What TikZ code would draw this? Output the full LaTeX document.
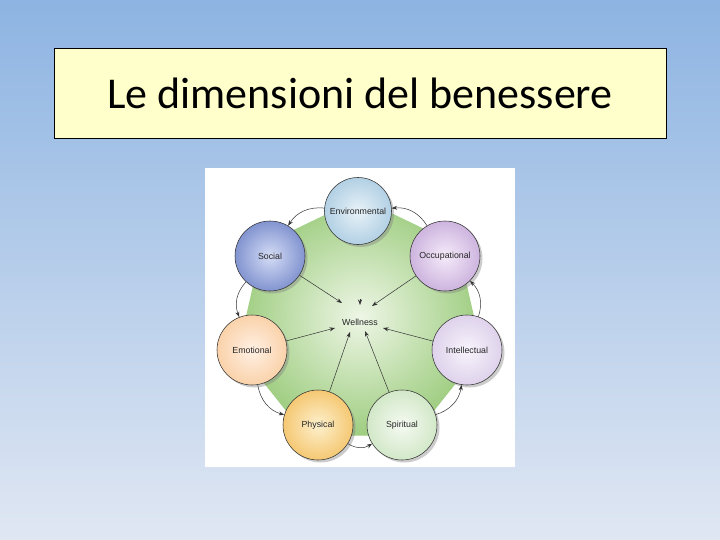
\documentclass[tikz,border=0pt]{standalone}
\usepackage{fontspec}
\setmainfont{Carlito}
\newfontfamily\lblfont{Liberation Sans}
\usetikzlibrary{calc,arrows.meta,shadows}
\definecolor{bgtop}{RGB}{141,180,226}
\definecolor{bgbot}{RGB}{224,231,243}
\definecolor{titlefill}{RGB}{255,255,204}
\tikzset{
  dim/.style={circle,draw=black!80,line width=0.55pt,minimum size=70pt,inner sep=0pt,
    font=\lblfont\fontsize{8.8}{10}\selectfont,text=black!85,
    drop shadow={shadow xshift=2.5pt,shadow yshift=-2.5pt,opacity=0.4}},
  inarrow/.style={draw=black!80,line width=0.5pt,-{Stealth[length=5.5pt,width=4pt]}},
  outarrow/.style={draw=black!80,line width=0.5pt,-{Stealth[length=5.5pt,width=4pt]},bend right=32},
}
\begin{document}
\begin{tikzpicture}[x=1pt,y=-1pt]
\useasboundingbox (0,0) rectangle (720,540);
\shade[top color=bgtop,bottom color=bgbot] (0,0) rectangle (720,540);
% title
\node[draw=black,line width=0.8pt,fill=titlefill,minimum width=612pt,minimum height=90pt,
  inner sep=0pt,font=\fontsize{44}{50}\selectfont] (title) at (360,93) {Le dimensioni del benessere};
% image panel
\fill[white] (205,168) rectangle (515,467);
% heptagon
\coordinate (c) at (360,323);
\shade[inner color={rgb,255:red,238;green,246;blue,230},outer color={rgb,255:red,158;green,205;blue,128}]
  ($(c)+(0,-125)$)
  -- ($(c)+({125*cos(141.43)},{-125*sin(141.43)})$)
  -- ($(c)+({125*cos(192.86)},{-125*sin(192.86)})$)
  -- ($(c)+({125*cos(244.29)},{-125*sin(244.29)})$)
  -- ($(c)+({125*cos(295.71)},{-125*sin(295.71)})$)
  -- ($(c)+({125*cos(347.14)},{-125*sin(347.14)})$)
  -- ($(c)+({125*cos(38.57)},{-125*sin(38.57)})$) -- cycle;
% circles
\node[dim,minimum size=67pt,inner color={rgb,255:red,232;green,242;blue,248},outer color={rgb,255:red,178;green,208;blue,228}] (env) at (358,211) {Environmental};
\node[dim,inner color={rgb,255:red,212;green,220;blue,245},outer color={rgb,255:red,130;green,148;blue,208}] (soc) at (270,256) {Social};
\node[dim,inner color={rgb,255:red,255;green,240;blue,228},outer color={rgb,255:red,250;green,210;blue,170}] (emo) at (252,350) {Emotional};
\node[dim,inner color={rgb,255:red,253;green,240;blue,205},outer color={rgb,255:red,245;green,200;blue,115}] (phy) at (318,425) {Physical};
\node[dim,inner color={rgb,255:red,245;green,250;blue,242},outer color={rgb,255:red,210;green,232;blue,200}] (spi) at (402,425) {Spiritual};
\node[dim,inner color={rgb,255:red,248;green,244;blue,252},outer color={rgb,255:red,222;green,210;blue,235}] (int) at (467,350) {Intellectual};
\node[dim,inner color={rgb,255:red,245;green,235;blue,250},outer color={rgb,255:red,205;green,180;blue,222}] (occ) at (445,256) {Occupational};
% wellness
\node[font=\lblfont\fontsize{8.8}{10}\selectfont,text=black!85,inner sep=1pt] (well) at (360,322) {Wellness};
% inner arrow endpoints
\coordinate (sEnv) at (360,299);
\coordinate (eEnv) at (360,305);
\coordinate (eSoc) at (342,303);
\coordinate (eOcc) at (372,306);
\coordinate (eEmo) at (335,328);
\coordinate (ePhy) at (350,332);
\coordinate (eSpi) at (365,331);
\coordinate (eInt) at (383,328);
\draw[inarrow] (sEnv) -- (eEnv);
\draw[inarrow] (soc) -- (eSoc);
\draw[inarrow] (occ) -- (eOcc);
\draw[inarrow] (emo) -- (eEmo);
\draw[inarrow] (phy) -- (ePhy);
\draw[inarrow] (spi) -- (eSpi);
\draw[inarrow] (int) -- (eInt);
% outer arcs (counterclockwise)
\draw[outarrow] (occ) to (env);
\draw[outarrow] (env) to (soc);
\draw[outarrow] (soc) to (emo);
\draw[outarrow] (emo) to (phy);
\draw[outarrow] (phy) to (spi);
\draw[outarrow] (spi) to (int);
\draw[outarrow] (int) to (occ);
\end{tikzpicture}
\end{document}
